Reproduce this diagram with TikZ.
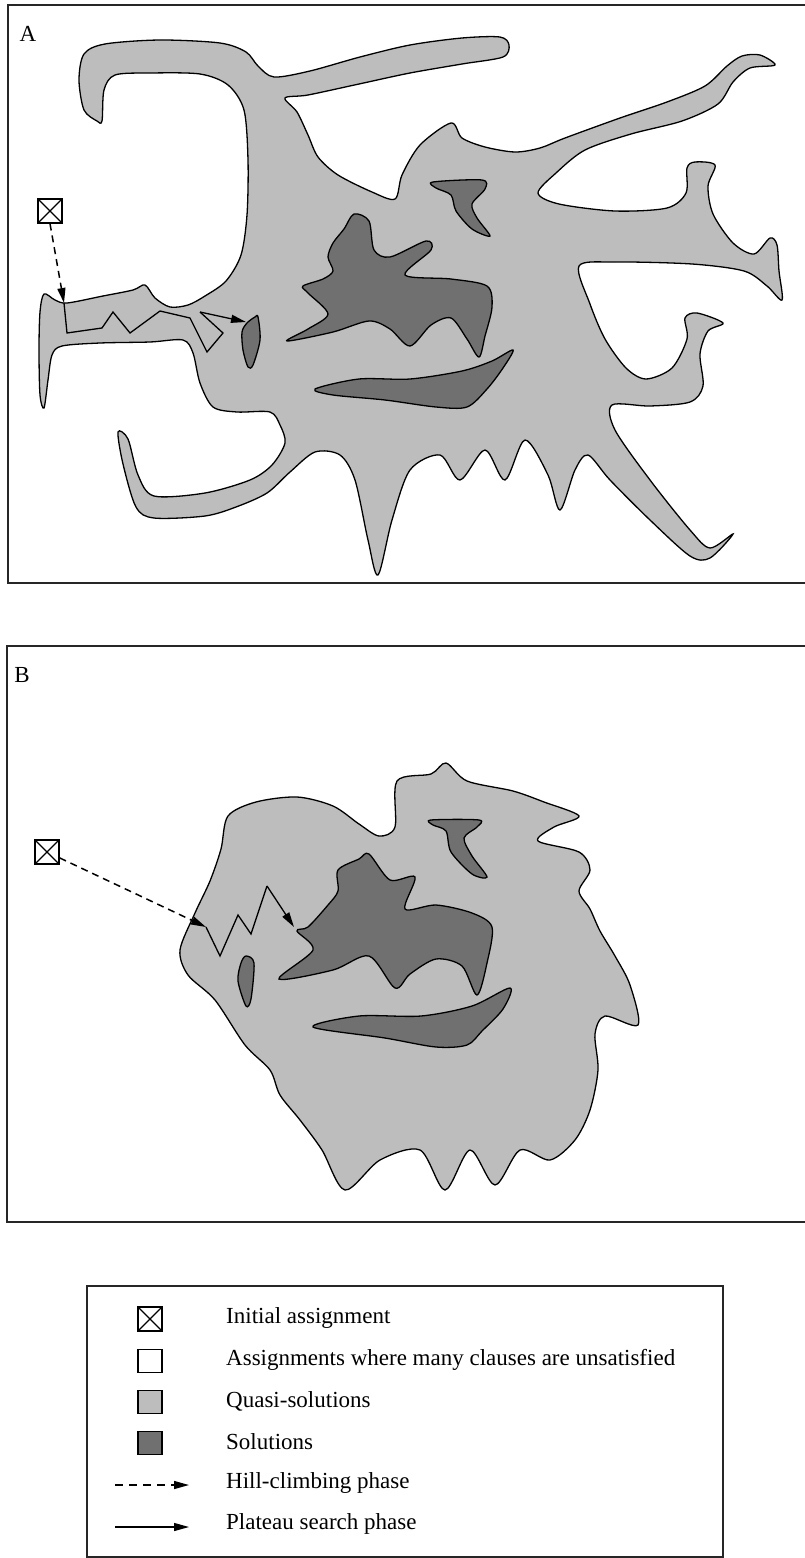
\documentclass[tikz,border=0pt]{standalone}
\usepackage{fontspec}
\setmainfont{Liberation Serif}
\usetikzlibrary{arrows.meta}
\definecolor{quasigray}{gray}{0.74}
\definecolor{solgray}{gray}{0.44}
\begin{document}
\begin{tikzpicture}[x=1pt,y=-1pt,
  quasi/.style={fill=quasigray,draw=black,line width=1.3},
  soln/.style={fill=solgray,draw=black,line width=1.3},
  frameline/.style={draw=black!85,line width=2},
  initbox/.style={draw,line width=1.2,minimum width=24,minimum height=24,inner sep=0,
    path picture={\draw[line width=1.1] (path picture bounding box.north west) -- (path picture bounding box.south east)
      (path picture bounding box.north east) -- (path picture bounding box.south west);}},
  legsq/.style={draw,line width=1.1,minimum width=24,minimum height=23,inner sep=0},
  hill/.style={line width=1.5,dash pattern=on 7pt off 5pt,-{Triangle[length=15,width=8]}},
  plat/.style={line width=1.3,-{Triangle[length=15,width=8]}},
  zig/.style={line width=1.3},
  legtext/.style={anchor=west,inner sep=0,font=\fontsize{23}{27}\selectfont},
  panellabel/.style={inner sep=0,font=\fontsize{23}{27}\selectfont}]
\useasboundingbox (0,0) rectangle (804,1558);
\fill[white] (0,0) rectangle (804,1558);

% ---------- Panel A ----------
\draw[frameline] (806,5) -- (8,5) -- (8,583) -- (806,583);
\node[panellabel] (labA) at (28,34) {A};

\draw[quasi] plot[smooth cycle,tension=0.5] coordinates {
(97,121) (84,110) (79,80) (84,54) (105,44) (160,40) (220,43) (246,52) (258,66) (274,77)
(310,71) (360,57) (410,45) (462,38) (500,37) (509,45) (503,57) (462,64) (410,73) (359,84)
(308,95) (285,98) (297,112) (308,135) (318,157) (338,175) (372,192) (395,199) (402,175)
(420,145) (451,123) (462,138) (485,147) (515,152) (540,148) (565,138) (620,118) (667,102)
(705,86) (727,66) (742,56) (760,55) (775,65) (750,68) (733,82) (718,104) (682,121) (631,134)
(585,150) (556,173) (538,193) (559,204) (615,211) (667,208) (686,193) (687,168) (695,162)
(715,165) (708,186) (713,214) (733,243) (754,254) (770,238) (777,245) (779,271) (782,300)
(767,286) (744,271) (692,264) (615,262) (579,266) (590,304) (605,339) (626,368) (646,379)
(672,368) (687,339) (685,318) (697,313) (723,323) (708,331) (700,354) (703,386) (690,402)
(650,406) (612,405) (615,430) (650,480) (690,530) (710,548) (733,534) (710,558) (690,556)
(650,520) (610,480) (588,455) (575,470) (560,510) (548,475) (525,440) (505,480) (485,450)
(460,480) (440,455) (410,470) (392,520) (378,575) (368,540) (355,480) (340,455) (315,452)
(290,472) (267,493) (236,507) (205,516) (154,518) (136,507) (123,464) (118,432) (128,439)
(138,475) (154,496) (205,493) (250,480) (272,465) (285,443) (280,425) (270,412) (237,412)
(213,407) (200,383) (193,353) (183,340) (150,342) (100,343) (62,346) (52,355) (48,380)
(44,408) (40,395) (39,350) (40,312) (44,294) (55,300) (67,303) (103,296) (133,290) (145,285)
(155,298) (170,307) (188,305) (205,296) (226,281) (241,255) (247,215) (248,160) (244,110)
(228,85) (200,74) (150,73) (115,75) (104,90) (102,121)};

% solutions A
\draw[soln] plot[smooth cycle,tension=0.5] coordinates {
(354,214) (369,221) (374,250) (390,257) (426,241) (431,250) (405,275) (451,279) (487,286)
(492,307) (485,336) (479,357) (467,339) (451,318) (431,325) (410,346) (390,329) (369,321)
(333,332) (287,341) (308,329) (328,314) (308,293) (303,286) (323,279) (333,271) (328,257)
(333,243) (344,229)};
\draw[soln] plot[smooth cycle,tension=0.5] coordinates {
(433,182) (482,180) (485,189) (472,204) (477,218) (490,236) (472,229) (456,211) (451,195) (436,188)};
\draw[soln] plot[smooth cycle,tension=0.5] coordinates {
(315,389) (359,379) (410,379) (462,371) (492,361) (513,350) (503,368) (487,389) (467,407)
(436,407) (385,400) (333,395)};
\draw[soln] plot[smooth cycle,tension=0.5] coordinates {
(255,317) (258,317) (260,340) (253,365) (248,367) (243,350) (242,332) (247,323)};

% path A
\node[initbox] (iaA) at (50,211) {};
\coordinate (a0) at (64,303);
\coordinate (a1) at (67,333);
\coordinate (a2) at (102,328);
\coordinate (a3) at (113,312);
\coordinate (a4) at (130,333);
\coordinate (a5) at (160,311);
\coordinate (a6) at (190,318);
\coordinate (a7) at (207,352);
\coordinate (a8) at (223,333);
\coordinate (a9) at (200,312);
\coordinate (a10) at (246,322);
\draw[hill] (iaA.south) -- (a0);
\draw[zig,line join=miter] (a0) -- (a1) -- (a2) -- (a3) -- (a4) -- (a5) -- (a6) -- (a7) -- (a8) -- (a9);
\draw[plat] (a9) -- (a10);

% ---------- Panel B ----------
\draw[frameline] (806,646) -- (7,646) -- (7,1222) -- (806,1222);
\node[panellabel] (labB) at (22,675) {B};

\draw[quasi] plot[smooth cycle,tension=0.5] coordinates {
(228,816) (256,802) (297,797) (333,806) (359,824) (379,836) (395,827) (397,781) (431,774)
(446,763) (467,781) (513,791) (544,802) (579,816) (554,827) (538,841) (579,852) (590,870)
(579,891) (590,909) (600,931) (615,956) (630,985) (638,1025) (605,1016) (595,1034)
(598,1070) (590,1110) (575,1140) (550,1160) (520,1150) (495,1185) (470,1150) (445,1190)
(420,1150) (380,1160) (345,1190) (322,1150) (300,1120) (280,1095) (270,1070) (245,1045)
(215,1000) (188,975) (180,950) (195,913) (210,881) (221,849)};

\draw[soln] plot[smooth cycle,tension=0.5] coordinates {
(369,854) (390,880) (415,877) (405,909) (436,905) (472,913) (492,927) (487,963) (477,995)
(462,966) (436,959) (410,974) (395,988) (369,956) (333,970) (279,979) (313,950) (297,931)
(308,927) (328,905) (338,891) (338,870) (359,859)};
\draw[soln] plot[smooth cycle,tension=0.5] coordinates {
(431,820) (479,820) (477,827) (464,838) (472,856) (487,877) (472,874) (451,852) (446,831) (433,825)};
\draw[soln] plot[smooth cycle,tension=0.5] coordinates {
(313,1027) (359,1016) (421,1016) (472,1006) (510,988) (503,1009) (482,1031) (467,1045)
(436,1047) (385,1038)};
\draw[soln] plot[smooth cycle,tension=0.5] coordinates {
(246,956) (254,963) (251,999) (246,1006) (238,981) (241,963)};

\node[initbox] (iaB) at (47,852) {};
\coordinate (b0) at (206,927);
\coordinate (b1) at (220,956);
\coordinate (b2) at (238,915);
\coordinate (b3) at (251,934);
\coordinate (b4) at (267,886);
\coordinate (b5) at (294,927);
\draw[hill] (iaB.-25) -- (b0);
\draw[zig] (b0) -- (b1) -- (b2) -- (b3) -- (b4);
\draw[plat] (b4) -- (b5);

% ---------- Legend ----------
\draw[frameline,line width=1.8] (87,1286) rectangle (723,1557);
\node[initbox] (l1) at (150,1319) {};
\node[legsq,fill=white] (l2) at (150,1361) {};
\node[legsq,fill=quasigray] (l3) at (150,1402) {};
\node[legsq,fill=solgray] (l4) at (150,1443) {};
\coordinate (h0) at (115,1485);
\coordinate (h1) at (189,1485);
\coordinate (p0) at (115,1527);
\coordinate (p1) at (189,1527);
\draw[hill,dash pattern=on 8pt off 6pt] (h0) -- (h1);
\draw[plat] (p0) -- (p1);
\node[legtext] (t1) at (226,1318) {Initial assignment};
\node[legtext] (t2) at (226,1360) {Assignments where many clauses are unsatisfied};
\node[legtext] (t3) at (226,1401) {Quasi-solutions};
\node[legtext] (t4) at (226,1442) {Solutions};
\node[legtext] (t5) at (226,1483) {Hill-climbing phase};
\node[legtext] (t6) at (226,1524) {Plateau search phase};
\end{tikzpicture}
\end{document}
